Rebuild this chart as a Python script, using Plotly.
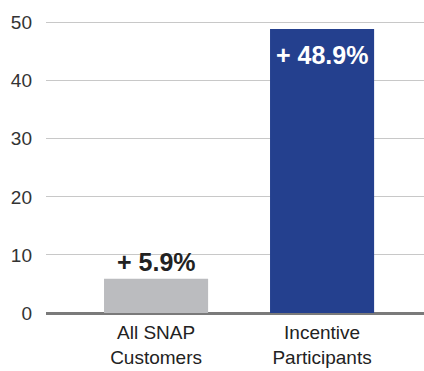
import plotly.graph_objects as go

categories = ["All SNAP<br>Customers", "Incentive<br>Participants"]
values = [5.9, 48.9]
labels = ["+ 5.9%", "+ 48.9%"]
colors = ["#BBBCBF", "#24408E"]
tick_vals = [0, 10, 20, 30, 40, 50]

FONT = "Liberation Sans Narrow, Arial Narrow, Liberation Sans, sans-serif"

fig = go.Figure()
fig.add_trace(go.Bar(
    x=[0, 1], y=values, marker=dict(color=colors, line=dict(width=0)),
    width=0.627, hoverinfo="skip",
))

fig.add_annotation(x=0, y=values[0], text="<b>" + labels[0] + "</b>", showarrow=False,
                   yanchor="bottom", yshift=1, font=dict(family=FONT, size=25, color="#222222"))
fig.add_annotation(x=1, y=values[1], text="<b>" + labels[1] + "</b>", showarrow=False,
                   yanchor="top", yshift=-10, font=dict(family=FONT, size=25, color="#FFFFFF"))

fig.update_layout(
    width=424, height=371,
    margin=dict(l=46, r=0, t=11, b=58),
    paper_bgcolor="white", plot_bgcolor="white",
    showlegend=False,
    bargap=0.373,
)
fig.update_xaxes(
    tickmode="array", tickvals=[0, 1], ticktext=categories,
    range=[-0.663, 1.614], showgrid=False, zeroline=False, showline=False,
    tickfont=dict(family=FONT, size=19, color="#222222"), ticks="", ticklabelstandoff=6,
    automargin=False,
)
fig.update_yaxes(
    range=[0, 52], tickvals=tick_vals, showgrid=True, gridcolor="#C8C8C8", gridwidth=1,
    zeroline=True, zerolinecolor="#7A7A7A", zerolinewidth=3,
    tickfont=dict(family=FONT, size=19, color="#333333"), ticks="", ticklabelstandoff=13,
    automargin=False,
)
fig.write_html("out.html")
